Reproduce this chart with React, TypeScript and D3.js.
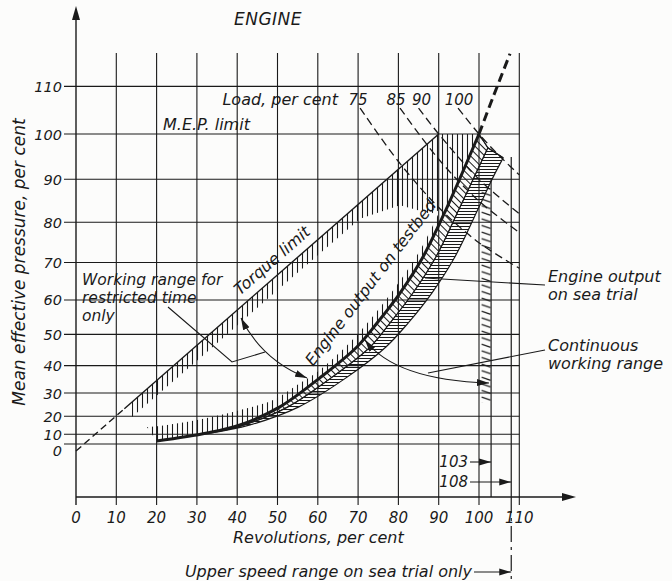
import React from 'react';
import * as d3 from 'd3';

type Pt = [number, number];

// axis ticks, per cent
const revTicks = [0, 10, 20, 30, 40, 50, 60, 70, 80, 90, 100, 110];
const mepTicks = [0, 10, 20, 30, 40, 50, 60, 70, 80, 90, 100, 110];

// engine output on testbed [rev %, mep %]
const testbed: Pt[] = [[20, 4.5], [32.5, 10.8], [40.7, 15.6], [50.6, 24.3], [60.5, 35.7], [69.7, 46.1], [74.7, 53.4], [80.4, 61.9], [86.1, 71.4], [92.1, 83.6], [100, 100]];
const testbedBeyond: Pt[] = [[100, 100], [103.5, 107.8], [107.7, 116.6]];

// engine output on sea trial (band)
const seaTrialInner: Pt[] = [[32.5, 10.8], [41.7, 15.6], [52.6, 24.3], [63.3, 35.7], [73, 46.1], [77.9, 53.4], [83.6, 61.9], [89.3, 71.4], [95.3, 83.6], [98.8, 90.5], [102.2, 97]];
const seaTrialOuter: Pt[] = [[33.5, 10.8], [43.2, 15.6], [55.3, 24.3], [67, 35.7], [76.9, 46.1], [82.4, 53.4], [88.3, 61.9], [94, 71.4], [100, 83.6], [103.5, 90.5], [106, 94.8]];

// torque limit and working range for restricted time
const torqueLimit: Pt[] = [[0, -8], [90, 100]];
const torqueSolidFrom = 12;
const restrictedFrom = 13.9;
const restrictedLower: Pt[] = [[13.9, 19.7], [30.8, 42.5], [50.6, 63.3], [70.5, 80.8], [80.4, 84], [88, 82], [92.1, 83.6]];
const testbedHatchTop: Pt[] = [[17.6, 14.4], [22.6, 15.6], [32.5, 19.2], [40.7, 22.9], [48.9, 27.2], [55.6, 33.8], [60.5, 38.5], [69.7, 49.8], [80.4, 65.2], [86.1, 74.4], [92.1, 86.4]];

// load lines, per cent
const loadLabels = ['75', '85', '90', '100'];
const load75: Pt[] = [[70.5, 105.5], [80, 94], [90, 83.5], [100, 75], [110, 68.5]];
const load85: Pt[] = [[80.4, 105.5], [90, 94.5], [100, 85], [110, 77.5]];
const load90: Pt[] = [[85, 105.5], [90, 100], [100, 90], [110, 82]];
const load100: Pt[] = [[94.8, 105.5], [100, 100], [105, 95.3], [110, 91]];

// continuous working range strip and speed marks
const continuousRev = [100.4, 103];
const continuousMep = [26, 88];
const speedMarks = [103, 108];
const speedTops = [90, 95];

const ink = '#1a1a1a';
const font = "'DejaVu Sans', sans-serif";

export default function App() {
  const x = d3.scaleLinear().domain([0, 110]).range([76, 519.3]);
  const y = d3.scalePow().exponent(1.5).domain([0, 100]).range([444, 134]);
  const axisY = 497;
  const gridTop = 53;

  const px = (d: Pt): Pt => [x(d[0]), y(d[1])];
  const line = d3.line<Pt>().x(d => x(d[0])).y(d => y(d[1]));
  const smooth = d3.line<Pt>().x(d => x(d[0])).y(d => y(d[1])).curve(d3.curveCatmullRom.alpha(0.5));
  const join = (a: string, b: string) => a + b.replace(/^M/, 'L') + 'Z';
  const poly = (pts: Pt[]) => 'M' + pts.map(p => p.join(',')).join('L') + 'Z';

  // torque line straight on paper
  const t0 = px(torqueLimit[0]);
  const t1 = px(torqueLimit[1]);
  const along = (rev: number): Pt => {
    const k = (rev - torqueLimit[0][0]) / (torqueLimit[1][0] - torqueLimit[0][0]);
    return [t0[0] + (t1[0] - t0[0]) * k, t0[1] + (t1[1] - t0[1]) * k];
  };
  const tSolid = along(torqueSolidFrom);
  const tAngle = Math.atan2(t1[1] - t0[1], t1[0] - t0[0]);
  const tLabel = along(51);
  const nx = Math.sin(tAngle) * 9;
  const ny = -Math.cos(tAngle) * 9;

  const aTop = testbed.filter(d => d[0] >= 92.1).reverse();
  const restrictedPoly = poly([
    along(restrictedFrom), t1, ...aTop.map(px),
    ...restrictedLower.slice().reverse().map(px),
  ]);

  const aLow = testbed.filter(d => d[0] <= 92.1).reverse();
  const testbedHatch = join(smooth(testbedHatchTop)!, smooth(aLow)!);
  const aUp = testbed.filter(d => d[0] >= 32.5);
  const bandAB = join(smooth(aUp)!, smooth(seaTrialInner.slice().reverse())!);
  const bandBC = join(smooth(seaTrialInner)!, smooth(seaTrialOuter.slice().reverse())!);

  const loads = [load75, load85, load90, load100];
  const labelShift = [-2, -4, 3, 1];

  const txt = { fontFamily: font, fontStyle: 'italic' as const, fill: ink };

  return (
    <svg width={672} height={581} style={{ position: 'absolute', left: 0, top: 0, background: '#fcfcfb' }}>
      <defs>
        <pattern id="vh" width={5} height={10} patternUnits="userSpaceOnUse">
          <line x1={2.5} y1={0} x2={2.5} y2={10} stroke={ink} strokeWidth={1.1} />
        </pattern>
        <pattern id="dh" width={5} height={5} patternUnits="userSpaceOnUse" patternTransform="rotate(-45)">
          <line x1={2.5} y1={0} x2={2.5} y2={5} stroke={ink} strokeWidth={1} />
        </pattern>
        <pattern id="hh" width={10} height={3} patternUnits="userSpaceOnUse">
          <line x1={0} y1={1.5} x2={10} y2={1.5} stroke={ink} strokeWidth={1} />
        </pattern>
        <pattern id="th" x={x(continuousRev[0])} width={14} height={6.6} patternUnits="userSpaceOnUse">
          <line x1={1} y1={1} x2={10} y2={4.2} stroke={ink} strokeWidth={1.3} />
        </pattern>
        <marker id="ar" viewBox="0 0 12 8" refX={12} refY={4} markerWidth={12} markerHeight={8} markerUnits="userSpaceOnUse" orient="auto-start-reverse">
          <path d="M0,0.5L12,4L0,7.5Z" fill={ink} />
        </marker>
      </defs>

      {/* grid */}
      <g stroke={ink} strokeWidth={1.1}>
        {mepTicks.map(v => (
          <line key={'h' + v} x1={64} x2={x(110)} y1={y(v)} y2={y(v)} />
        ))}
        {revTicks.slice(1).map(v => (
          <line key={'v' + v} x1={x(v)} x2={x(v)} y1={gridTop} y2={axisY + 8} />
        ))}
      </g>

      {/* axes */}
      <g stroke={ink} strokeWidth={1.4} fill="none">
        <line x1={x(0)} x2={x(0)} y1={axisY + 8} y2={18} />
        <line x1={x(0)} x2={566} y1={axisY} y2={axisY} />
      </g>
      <path d={`M${x(0)},6L${x(0) - 4},20L${x(0) + 4},20Z`} fill={ink} />
      <path d={`M576,${axisY}L562,${axisY - 4}L562,${axisY + 4}Z`} fill={ink} />

      {/* hatched ranges */}
      <path d={restrictedPoly} fill="url(#vh)" />
      <path d={testbedHatch} fill="url(#vh)" />
      <path d={bandAB} fill="url(#dh)" stroke={ink} strokeWidth={1} />
      <path d={bandBC} fill="url(#hh)" stroke={ink} strokeWidth={1.2} />
      <rect
        x={x(continuousRev[0])} width={x(continuousRev[1]) - x(continuousRev[0])}
        y={y(continuousMep[1])} height={y(continuousMep[0]) - y(continuousMep[1])}
        fill="url(#th)"
      />

      {/* load lines */}
      <g fill="none" stroke={ink} strokeWidth={1.3} strokeDasharray="8,4.5">
        {loads.map((l, i) => <path key={i} d={smooth(l)!} />)}
      </g>

      {/* torque limit */}
      <line x1={t0[0]} y1={t0[1]} x2={tSolid[0]} y2={tSolid[1]} stroke={ink} strokeWidth={1.4} strokeDasharray="7,4" />
      <line x1={tSolid[0]} y1={tSolid[1]} x2={t1[0]} y2={t1[1]} stroke={ink} strokeWidth={1.4} />

      {/* engine output curves */}
      <path d={smooth(testbed)!} fill="none" stroke={ink} strokeWidth={3} />
      <path d={smooth(testbedBeyond)!} fill="none" stroke={ink} strokeWidth={3} strokeDasharray="9,5" />
      <path d={line([testbed[testbed.length - 1], seaTrialInner[seaTrialInner.length - 1], seaTrialOuter[seaTrialOuter.length - 1]])!} fill="none" stroke={ink} strokeWidth={1.2} />

      {/* speed marks */}
      {speedMarks.map((s, i) => (
        <line key={s} x1={x(s)} x2={x(s)} y1={y(speedTops[i])} y2={axisY} stroke={ink} strokeWidth={1.2} />
      ))}
      <line x1={x(108)} x2={x(108)} y1={axisY} y2={581} stroke={ink} strokeWidth={1.2} strokeDasharray="16,5,3,5" />
      {speedMarks.map((s, i) => (
        <g key={'m' + s}>
          <text x={468} y={467 + i * 20} textAnchor="end" fontSize={15} {...txt}>{s}</text>
          <line x1={470} x2={x(s)} y1={462 + i * 20} y2={462 + i * 20} stroke={ink} strokeWidth={1.1} markerEnd="url(#ar)" />
        </g>
      ))}

      {/* tick labels */}
      {mepTicks.map(v => (
        <text key={'yl' + v} x={62} y={y(v) + (v === 0 ? 12 : 5.5)} textAnchor="end" fontSize={14.5} {...txt}>{v}</text>
      ))}
      {revTicks.map(v => (
        <text key={'xl' + v} x={x(v)} y={523} textAnchor="middle" fontSize={15} {...txt}>{v}</text>
      ))}

      {/* titles */}
      <text x={268} y={25} textAnchor="middle" fontSize={17} letterSpacing={0.5} {...txt}>ENGINE</text>
      <text x={233} y={543} fontSize={16} {...txt}>Revolutions, per cent</text>
      <text transform="translate(25,262) rotate(-90)" textAnchor="middle" fontSize={17} {...txt}>Mean effective pressure, per cent</text>
      <text x={472} y={577} textAnchor="end" fontSize={16} {...txt}>Upper speed range on sea trial only</text>
      <line x1={474} x2={x(108)} y1={572} y2={572} stroke={ink} strokeWidth={1.1} markerEnd="url(#ar)" />

      {/* load labels */}
      <text x={338} y={105} textAnchor="end" fontSize={16} {...txt}>Load, per cent</text>
      {loads.map((l, i) => (
        <text key={'ll' + i} x={x(l[0][0]) + labelShift[i]} y={105} textAnchor="middle" fontSize={15} {...txt}>{loadLabels[i]}</text>
      ))}
      <text x={163} y={130} fontSize={16} {...txt}>M.E.P. limit</text>

      {/* curve labels */}
      <text transform={`translate(${tLabel[0] + nx},${tLabel[1] + ny}) rotate(${(tAngle * 180) / Math.PI})`} textAnchor="middle" fontSize={16} {...txt}>Torque limit</text>
      <text transform="translate(375,286) rotate(-52.5)" textAnchor="middle" fontSize={16} {...txt}>Engine output on testbed</text>

      {/* callouts */}
      <text x={82} y={285} fontSize={15.5} {...txt}>Working range for</text>
      <text x={82} y={303} fontSize={15.5} {...txt}>restricted time</text>
      <text x={82} y={321} fontSize={15.5} {...txt}>only</text>
      <path d="M168,307L232,362L265,352" fill="none" stroke={ink} strokeWidth={1.1} />
      <path d="M241,318Q262,360 307,378" fill="none" stroke={ink} strokeWidth={1.1} markerStart="url(#ar)" markerEnd="url(#ar)" />

      <text x={548} y={282} fontSize={16} {...txt}>Engine output</text>
      <text x={548} y={300} fontSize={16} {...txt}>on sea trial</text>
      <path d="M545,285L425,278" fill="none" stroke={ink} strokeWidth={1.1} />

      <text x={548} y={351} fontSize={16} {...txt}>Continuous</text>
      <text x={548} y={369} fontSize={16} {...txt}>working range</text>
      <path d="M545,350L428,373" fill="none" stroke={ink} strokeWidth={1.1} />
      <path d="M365,340Q395,380 489,383" fill="none" stroke={ink} strokeWidth={1.1} markerStart="url(#ar)" markerEnd="url(#ar)" />
    </svg>
  );
}
